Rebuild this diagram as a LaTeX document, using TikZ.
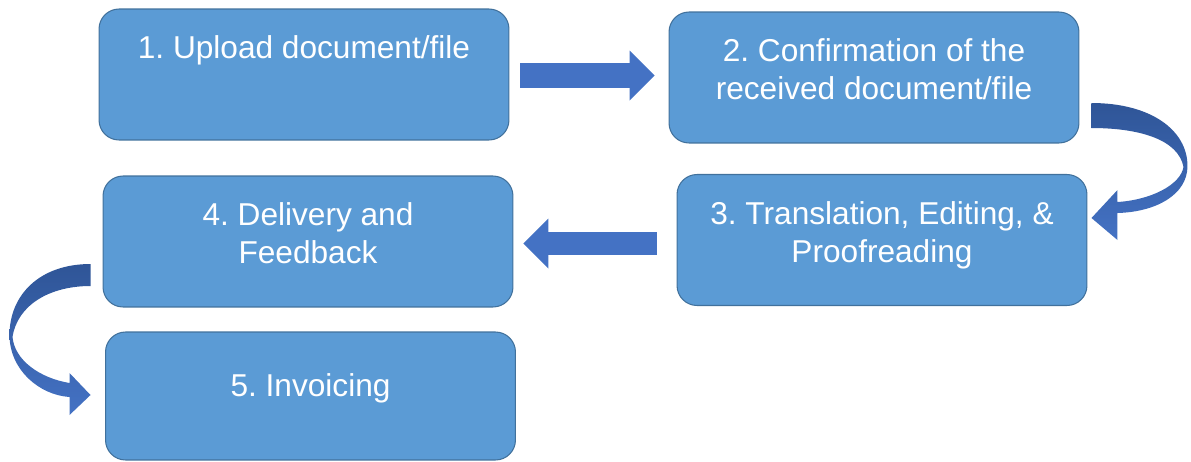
\documentclass[tikz,border=0pt]{standalone}
\usepackage{fontspec}
\setmainfont{Liberation Sans}
\usepackage{tikz}
\usetikzlibrary{arrows.meta}
\frenchspacing

\definecolor{boxblue}{HTML}{5B9BD5}
\definecolor{boxedge}{HTML}{41719C}
\definecolor{arrowblue}{HTML}{4472C4}
\definecolor{arrowdark}{HTML}{2F5597}

\begin{document}
\begin{tikzpicture}[x=0.02cm, y=-0.02cm,
    stepbox/.style={draw=boxedge, line width=0.6pt, fill=boxblue, rounded corners=0.4cm,
      minimum width=8.2cm, minimum height=2.62cm, inner sep=0pt, align=center,
      text=white, text depth=9.5pt, font=\fontsize{18}{21.5}\selectfont},
    flowarrow/.style={draw=arrowblue, line width=0.5cm,
      -{Triangle[length=0.5cm, width=1cm, line width=0pt]}},
    turnarrow/.style={top color=arrowdark, bottom color=arrowblue}]
    \useasboundingbox (0, 0) rectangle (1191, 461);
            % steps
            \node[stepbox] (s1) at (304, 74.5) {1. Upload document/file\\\mbox{}};
            \node[stepbox] (s2) at (874, 77.5) {2. Confirmation of the\\received document/file};
            \node[stepbox] (s3) at (882, 240) {3. Translation, Editing, \&\\Proofreading};
            \node[stepbox] (s4) at (308, 241.5) {4. Delivery and\\Feedback};
            \node[stepbox, minimum height=2.56cm, text depth=13pt] (s5) at (310.5, 396) {5. Invoicing};
            % straight arrows
            \draw[flowarrow, shorten <=0.22cm, shorten >=0.28cm] ([yshift=-0.02cm]s1.east) -- ([yshift=-0.02cm]s1.east -| s2.west);
            \draw[flowarrow, line width=0.46cm, shorten <=0.4cm, shorten >=0.2cm] ([yshift=-0.07cm]s3.west) -- ([yshift=-0.07cm]s3.west -| s4.east);
            % curved arrows
            \begin{scope}[shift={(s2.east)}]
                \shade[turnarrow] (12, 25.5) .. controls (71, 25.5) and (108, 52.5) .. (108, 88.5)
                    .. controls (108, 117.5) and (76, 134.5) .. (38, 135.5)
                    -- (38, 162.5) -- (12, 140.5) -- (38, 112.5) -- (38, 124.5)
                    .. controls (71, 122.5) and (101, 107.5) .. (104, 89.5)
                    .. controls (99, 62.5) and (61, 50.5) .. (12, 50.5) -- cycle;
            \end{scope}
            \begin{scope}[shift={(s4.west)}]
                \shade[turnarrow] (-12, 22.5) .. controls (-63, 22.5) and (-93, 53.5) .. (-93, 93.5)
                    .. controls (-93, 128.5) and (-63, 153.5) .. (-33, 155.5)
                    -- (-33, 173.5) -- (-12, 153.5) -- (-33, 131.5) -- (-33, 141.5)
                    .. controls (-63, 136.5) and (-88, 118.5) .. (-90, 95.5)
                    .. controls (-85, 63.5) and (-53, 44.5) .. (-12, 44.5) -- cycle;
            \end{scope}
        \end{tikzpicture}
\end{document}
